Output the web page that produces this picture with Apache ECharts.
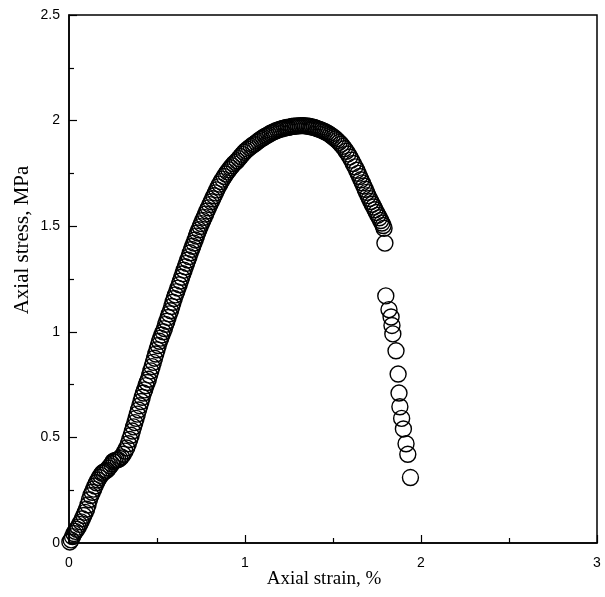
<!DOCTYPE html>
<html>
<head>
<meta charset="utf-8">
<script src="https://cdn.jsdelivr.net/npm/echarts@6/dist/echarts.min.js"></script>
<style>html,body{margin:0;padding:0;background:#fff;}#c{width:605px;height:597px;}</style>
</head>
<body>
<div id="c"></div>
<script>
// Axial strain (%) values of each measured point
var strain = [
0.005,0.012,0.02,0.028,0.036,0.044,0.052,0.06,0.068,0.076,0.084,0.092,0.1,0.108,0.116,0.124,0.132,0.14,0.148,0.156,0.164,0.172,0.18,0.188,0.196,
0.205,0.215,0.225,0.235,0.243,0.25,0.258,0.268,0.278,0.288,0.298,0.308,0.318,0.328,0.337,0.345,0.353,0.36,0.367,0.374,0.381,0.388,0.395,0.402,0.409,
0.416,0.423,0.43,0.437,0.444,0.451,0.458,0.465,0.472,0.479,0.486,0.493,0.5,0.507,0.514,0.521,0.528,0.535,0.542,0.549,0.556,0.563,0.57,0.577,0.584,
0.591,0.598,0.605,0.612,0.619,0.626,0.633,0.64,0.647,0.654,0.661,0.668,0.675,0.682,0.689,0.696,0.703,0.71,0.717,0.724,0.731,0.738,0.745,0.752,0.76,
0.768,0.776,0.784,0.792,0.8,0.808,0.816,0.824,0.832,0.84,0.848,0.856,0.864,0.873,0.882,0.891,0.9,0.909,0.918,0.927,0.936,0.945,0.955,0.965,0.975,
0.985,0.995,1.005,1.015,1.025,1.035,1.045,1.055,1.065,1.075,1.085,1.095,1.105,1.115,1.125,1.135,1.145,1.155,1.165,1.175,1.185,1.195,1.205,1.215,1.225,
1.235,1.245,1.255,1.265,1.275,1.285,1.295,1.305,1.315,1.325,
1.335,1.345,1.355,1.365,1.375,1.385,1.395,1.405,1.415,1.425,1.435,1.445,1.455,1.465,1.475,1.485,1.495,1.505,1.515,1.525,1.535,1.545,1.555,1.565,1.575,
1.585,1.595,1.605,1.615,1.625,1.635,1.643,1.651,1.659,1.667,1.675,1.683,1.691,1.699,1.707,1.715,1.723,1.731,1.739,1.747,1.755,1.763,1.771,1.778,1.785,
1.79,1.795,
1.80,1.818,1.83,1.835,1.84,1.858,1.87,1.875,1.88,1.89,1.90,1.915,1.925,1.94
];
// Axial stress (MPa) values of each measured point
var stress = [
0.005,0.015,0.03,0.045,0.055,0.065,0.075,0.088,0.1,0.115,0.13,0.145,0.16,0.18,0.205,0.225,0.24,0.255,0.27,0.285,0.298,0.31,0.32,0.33,0.335,
0.34,0.345,0.355,0.365,0.375,0.385,0.39,0.392,0.395,0.4,0.408,0.42,0.435,0.45,0.47,0.49,0.51,0.53,0.55,0.57,0.59,0.61,0.63,0.65,0.67,
0.69,0.71,0.725,0.745,0.76,0.775,0.795,0.815,0.835,0.855,0.875,0.895,0.915,0.935,0.955,0.97,0.985,1.0,1.015,1.035,1.05,1.068,1.085,1.1,1.12,
1.14,1.158,1.175,1.19,1.207,1.223,1.24,1.258,1.275,1.292,1.308,1.324,1.34,1.356,1.374,1.39,1.405,1.42,1.435,1.453,1.468,1.483,1.498,1.512,1.527,
1.542,1.557,1.572,1.587,1.602,1.616,1.63,1.644,1.658,1.672,1.686,1.699,1.711,1.723,1.735,1.747,1.757,1.767,1.777,1.786,1.795,1.802,1.81,1.82,1.83,
1.84,1.85,1.858,1.865,1.872,1.878,1.885,1.89,1.897,1.903,1.91,1.915,1.92,1.926,1.93,1.935,1.94,1.944,1.948,1.952,1.955,1.958,1.96,1.963,1.965,
1.967,1.968,1.97,1.972,1.973,1.974,1.975,1.975,1.976,1.976,
1.976,1.975,1.974,1.973,1.971,1.969,1.967,1.964,1.961,1.958,1.955,1.951,1.947,1.943,1.938,1.932,1.926,1.92,1.913,1.905,1.897,1.888,1.878,1.867,1.855,
1.842,1.828,1.813,1.797,1.781,1.765,1.75,1.735,1.72,1.705,1.69,1.675,1.66,1.645,1.631,1.617,1.604,1.591,1.578,1.565,1.552,1.54,1.527,1.515,1.503,
1.49,1.42,
1.17,1.105,1.07,1.03,0.99,0.91,0.80,0.71,0.645,0.59,0.54,0.47,0.42,0.31
];
var xTickLabels = ['0','1','2','3'];
var yTickLabels = ['0','0.5','1','1.5','2','2.5'];

var points = strain.map(function (s, i) { return [s, stress[i]]; });

var chart = echarts.init(document.getElementById('c'), null, {renderer: 'canvas'});
chart.setOption({
  animation: false,
  backgroundColor: '#fff',
  grid: {left: 69, top: 15, width: 528, height: 528, show: true, borderColor: '#000', borderWidth: 1.5, backgroundColor: 'transparent'},
  xAxis: {
    type: 'value', min: 0, max: 3, interval: 1,
    axisLine: {show: true, onZero: false, lineStyle: {color: '#000', width: 1.5}},
    axisTick: {show: true, inside: true, length: 8, lineStyle: {color: '#000', width: 1.2}},
    minorTick: {show: true, splitNumber: 2, length: 5, lineStyle: {color: '#000', width: 1.2}},
    splitLine: {show: false},
    axisLabel: {color: '#000', fontFamily: 'Liberation Sans', fontSize: 14, margin: 13,
      formatter: function (v) { var i = Math.round(v); return xTickLabels[i] !== undefined ? xTickLabels[i] : ''; }}
  },
  yAxis: {
    type: 'value', min: 0, max: 2.5, interval: 0.5,
    axisLine: {show: true, onZero: false, lineStyle: {color: '#000', width: 1.5}},
    axisTick: {show: true, inside: true, length: 8, lineStyle: {color: '#000', width: 1.2}},
    minorTick: {show: true, splitNumber: 2, length: 5, lineStyle: {color: '#000', width: 1.2}},
    splitLine: {show: false},
    axisLabel: {color: '#000', fontFamily: 'Liberation Sans', fontSize: 14, margin: 9,
      formatter: function (v) { var i = Math.round(v / 0.5); return yTickLabels[i] !== undefined ? yTickLabels[i] : ''; }}
  },
  graphic: [
    {type: 'text', x: 324, y: 579, style: {text: 'Axial strain, %', font: '19px "Liberation Serif"', fill: '#000', textAlign: 'center', textVerticalAlign: 'middle'}},
    {type: 'text', x: 22, y: 240, rotation: Math.PI / 2, style: {text: 'Axial stress, MPa', font: '21px "Liberation Serif"', fill: '#000', textAlign: 'center', textVerticalAlign: 'middle'}}
  ],
  series: [{
    type: 'scatter',
    data: points,
    symbol: 'circle',
    symbolSize: 16,
    clip: false,
    itemStyle: {color: 'rgba(0,0,0,0)', borderColor: '#000', borderWidth: 1.4, opacity: 1},
    emphasis: {disabled: true}
  }]
});
</script>
</body>
</html>
